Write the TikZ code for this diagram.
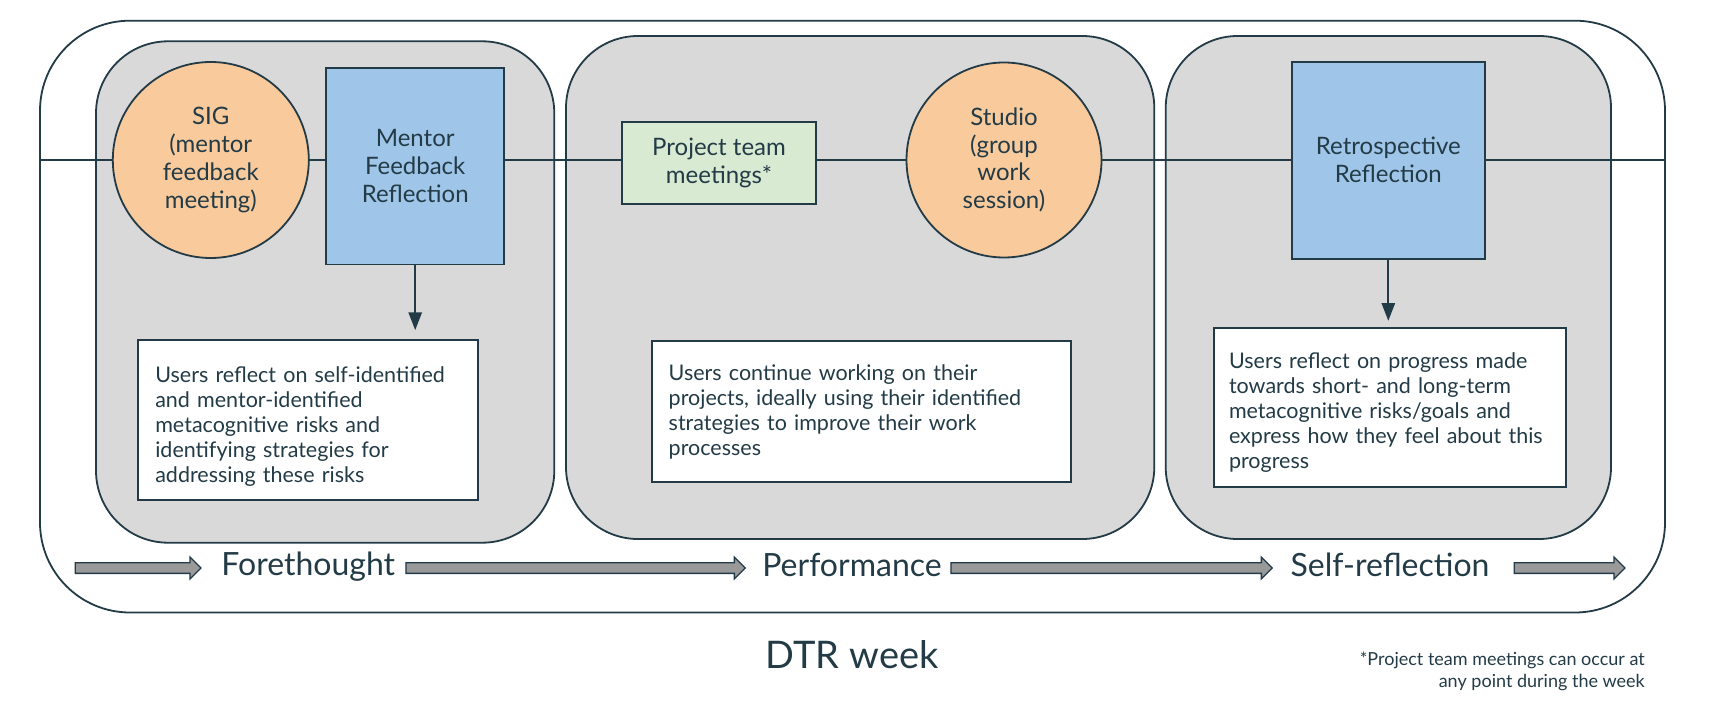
\documentclass[tikz,border=0pt]{standalone}
\usepackage{fontspec}
\setmainfont{Lato}
\usetikzlibrary{arrows.meta, shapes.arrows}
\definecolor{ink}{HTML}{233B46}
\definecolor{panelgray}{HTML}{D9D9D9}
\definecolor{meetorange}{HTML}{F9CB9C}
\definecolor{reflblue}{HTML}{9FC5E8}
\definecolor{teamgreen}{HTML}{D9EAD3}
\definecolor{flowgray}{HTML}{999999}
\newcommand{\boxtxt}{\fontsize{24}{27.8}\selectfont}
\newcommand{\notetxt}{\fontsize{21.5}{25}\selectfont}
\newcommand{\phasetxt}{\fontsize{32}{36}\selectfont}
\newcommand{\weektxt}{\fontsize{38}{42}\selectfont}
\newcommand{\foottxt}{\fontsize{18}{21.7}\selectfont}
\tikzset{
        outline/.style={draw=ink, line width=1.8pt},
        phasepanel/.style={outline, fill=panelgray, rectangle, rounded corners=72pt, inner sep=0pt},
        meeting/.style={outline, fill=meetorange, circle, inner sep=0pt, align=center, text=ink, font=\boxtxt},
        reflection/.style={outline, fill=reflblue, rectangle, inner sep=0pt, align=center, text=ink, font=\boxtxt},
        teammeet/.style={outline, fill=teamgreen, rectangle, inner sep=0pt, align=center, text=ink, font=\boxtxt},
        notebox/.style={outline, fill=white, rectangle, inner xsep=17pt, inner ysep=0pt, align=left, text=ink, font=\notetxt},
        firstline/.style={execute at begin node={\rule{0pt}{#1}}},
        phaselabel/.style={text=ink, font=\phasetxt, inner sep=0pt},
        flow/.style={single arrow, draw=ink, line width=1.3pt, fill=flowgray, inner xsep=0pt, inner ysep=4.7pt, single arrow head extend=5.5pt, single arrow tip angle=90},
        down/.style={draw=ink, line width=1.8pt, -{Triangle[width=13.3pt, length=17.7pt]}}
}
\begin{document}
\begin{tikzpicture}[x=1pt, y=1pt]
        \useasboundingbox (0,0) rectangle (1734,-708);
        \node[outline, rectangle, rounded corners=90pt, minimum width=1625pt, minimum height=591.8pt, inner sep=0pt] (week) at (852.5,-316.6) {};
        \node[phasepanel, minimum width=458.3pt, minimum height=501.4pt] (fore) at (325.15,-292) {};
        \node[phasepanel, minimum width=588.3pt, minimum height=503pt] (perf) at (860.15,-287.5) {};
        \node[phasepanel, minimum width=445.3pt, minimum height=503pt] (self) at (1388.35,-287.5) {};
        \coordinate (wl) at (40,-160);
        \coordinate (wr) at (1666,-160);
        \draw[draw=ink, line width=1.8pt] (wl) -- (wr);
        \node[meeting, minimum size=196pt] (sig) at (210.8,-160) {SIG\\(mentor\\feedback\\meeting)};
        \node[reflection, minimum width=178.3pt, minimum height=196.8pt] (mentor) at (415.2,-166.1) {Mentor\\Feedback\\Reflection};
        \node[teammeet, minimum width=193.7pt, minimum height=82.3pt] (team) at (719,-162.8) {Project team\\meetings*};
        \node[meeting, minimum size=195pt] (studio) at (1004,-160) {Studio\\(group\\work\\session)};
        \node[reflection, minimum width=193.3pt, minimum height=197pt] (retro) at (1388.3,-160.2) {Retrospective\\Reflection};
        \node[notebox, firstline=28pt, text width=305.4pt, minimum height=160pt] (note1) at (308,-420) {Users reflect on self-identified\\and mentor-identified\\metacognitive risks and\\identifying strategies for\\addressing these risks};
        \node[notebox, text width=385.3pt, minimum height=141pt] (note2) at (861.35,-411.5) {Users continue working on their\\projects, ideally using their identified\\strategies to improve their work\\processes};
        \node[notebox, firstline=25pt, inner xsep=15pt, text width=321.7pt, minimum height=158.7pt] (note3) at (1389.85,-407.65) {Users reflect on progress made\\towards short- and long-term\\metacognitive risks/goals and\\express how they feel about this\\progress};
        \draw[down, shorten >=9pt] (mentor.south) -- (mentor.south |- note1.north);
        \draw[down, shorten >=6.6pt] (retro.south) -- (retro.south |- note3.north);
        \node[phaselabel, anchor=base] (forelbl) at (308.3,-575) {Forethought};
        \node[phaselabel, anchor=base] (perflbl) at (852,-576) {Performance};
        \node[phaselabel, anchor=base] (selflbl) at (1390,-576) {Self-reflection};
        \node[flow, minimum height=125.7pt] (flow1) at (135.4,-568) {};
        \node[flow, minimum height=339.3pt] (flow2) at (572.9,-568) {};
        \node[flow, minimum height=321.3pt] (flow3) at (1108.9,-568) {};
        \node[flow, minimum height=110.7pt] (flow4) at (1566.9,-568) {};
        \node[text=ink, font=\weektxt, anchor=base, inner sep=0pt] (weeklbl) at (852,-668.3) {DTR week};
        \node[text=ink, font=\foottxt, align=right, anchor=north east, inner sep=0pt] (foot) at (1645,-652) {*Project team meetings can occur at\\any point during the week};
\end{tikzpicture}
\end{document}
